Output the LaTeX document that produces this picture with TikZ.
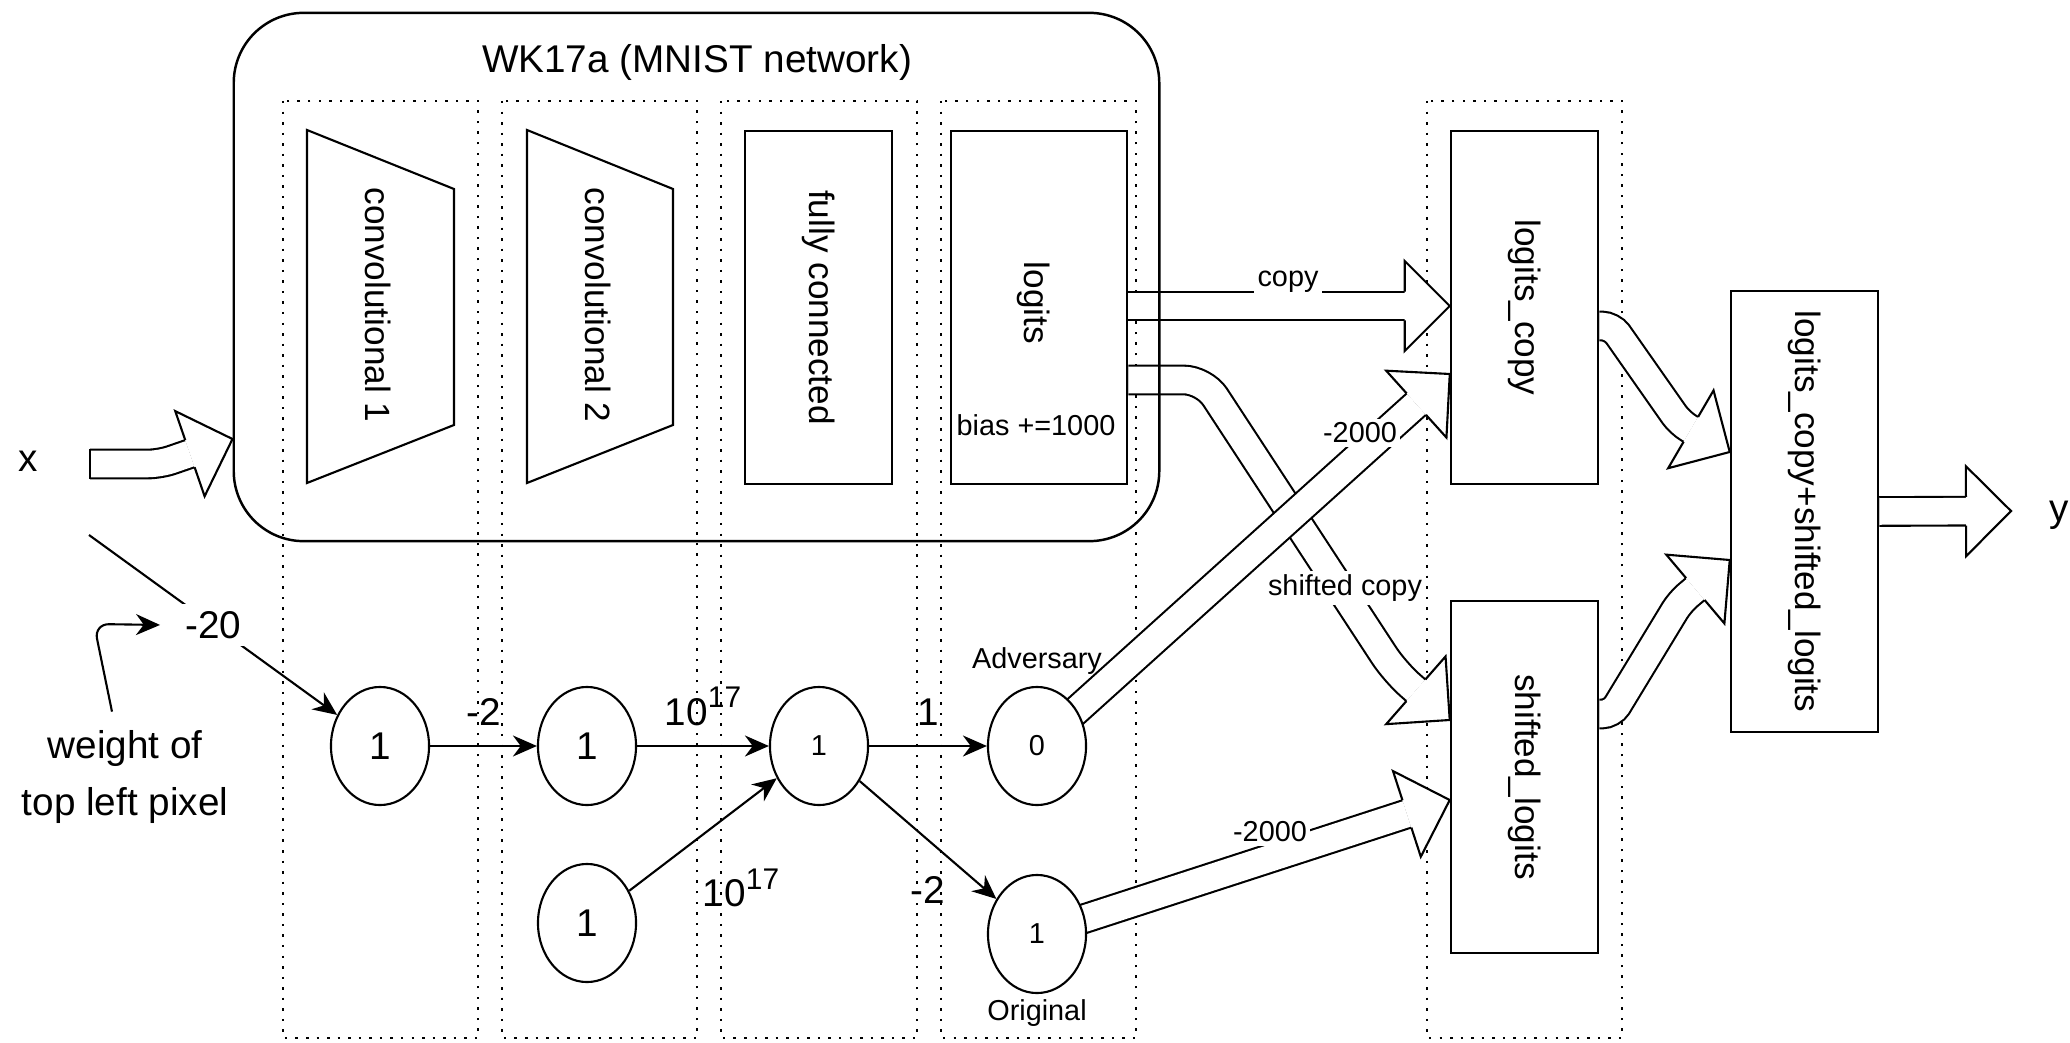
\documentclass[tikz,border=0pt]{standalone}
\usepackage{fontspec}
\setmainfont{Liberation Sans}
\usepackage{graphicx}
\usetikzlibrary{shapes.geometric}
\usetikzlibrary{arrows.meta}
\usetikzlibrary{decorations.markings}
\pgfdeclarelayer{back}
\pgfsetlayers{back,main}
\newcommand{\bigsize}{\fontsize{11}{16}\selectfont}
\newcommand{\boxsize}{\fontsize{10}{12}\selectfont}
\newcommand{\smallsize}{\fontsize{8.2}{10}\selectfont}
\newcommand{\tenpow}[1]{10\raisebox{0.45em}{\fontsize{8.5}{10}\selectfont #1}}
\tikzset{
  netbox/.style={draw, line width=0.7pt, inner sep=0pt, font=\boxsize},
  neuron/.style={ellipse, draw, line width=0.6pt, fill=white, minimum width=0.98cm, minimum height=1.18cm, inner sep=0pt},
  colframe/.style={line width=0.7pt, dash pattern=on 0.7pt off 2.3pt},
  wire/.style={line width=0.6pt, -{Stealth[length=0.24cm, width=0.21cm]}},
  biglab/.style={font=\bigsize, inner sep=1pt},
  smalllab/.style={font=\smallsize, inner sep=1pt},
  fatbody/.style={double=white, double distance=0.265cm, line width=0.6pt, shorten >=0.45cm},
  fathead/.style={decorate, decoration={markings, mark=at position 1 with {
    \filldraw[sharp corners, fill=white, line width=0.6pt, line join=miter] (-0.45cm,0.1435cm) -- (-0.45cm,0.45cm) -- (0cm,0cm) -- (-0.45cm,-0.45cm) -- (-0.45cm,-0.1435cm);}}},
}
% #2: the bends, #3: the last straight piece that carries the head
\newcommand{\fatarrow}[3][]{\draw[fatbody,#1] #2 #3; \path[fathead] #3;}

\begin{document}
\begin{tikzpicture}[x=0.01cm, y=-0.01cm]
\useasboundingbox (0,0) rectangle (2070,1043);

\node[draw, line width=0.7pt, rounded corners=0.7cm, minimum width=9.25cm, minimum height=5.28cm] (wk) at (696.5,277) {};
\node[biglab] (title) at (697,62) {WK17a (MNIST network)};

\draw[line width=0.6pt] (307,130) -- (454,189) -- (454,425) -- (307,483) -- cycle;
\node[font=\boxsize] (conva) at (378,305) {\rotatebox{-90}{convolutional 1}};
\draw[line width=0.6pt] (527,130) -- (673,189) -- (673,425) -- (527,483) -- cycle;
\node[font=\boxsize] (convb) at (598,305) {\rotatebox{-90}{convolutional 2}};
\node[netbox, minimum width=1.47cm, minimum height=3.53cm] (fc) at (818.5,307.5) {\rotatebox{-90}{fully connected}};
\node[netbox, minimum width=1.76cm, minimum height=3.53cm] (logits) at (1039,307.5) {};
\node[font=\boxsize] (lname) at (1034,303) {\rotatebox{-90}{logits}};
\node[smalllab] (bias) at (1036,425) {bias +=1000};

\node[netbox, minimum width=1.47cm, minimum height=3.53cm] (lcopy) at (1524.5,307.5) {\rotatebox{-90}{logits\_copy}};
\node[netbox, minimum width=1.47cm, minimum height=3.52cm] (lshift) at (1524.5,777) {\rotatebox{-90}{shifted\_logits}};
\node[netbox, minimum width=1.47cm, minimum height=4.41cm] (lsum) at (1804.5,511.5) {\rotatebox{-90}{logits\_copy+shifted\_logits}};

\node[neuron, font=\bigsize] (a1) at (380,746) {1};
\node[neuron, font=\bigsize] (a2) at (587,746) {1};
\node[neuron, font=\smallsize] (a3) at (819,746) {1};
\node[neuron, font=\bigsize] (b2) at (587,923) {1};
\node[neuron, font=\smallsize] (adv) at (1037,746) {0};
\node[neuron, font=\smallsize] (orig) at (1037,934) {1};
\node[smalllab] (advname) at (1037,661) {Adversary};
\node[smalllab] (origname) at (1037,1013) {Original};

\node[biglab] (xin) at (28,461) {x};
\node[biglab] (yout) at (2059,515) {y};
\node[biglab, align=center] (wt) at (125,777) {weight of\\top left pixel};

\coordinate (src) at (89,535);
\coordinate (xstart) at (90,464);
\coordinate (yend) at (2011,511);

\draw[wire] (src) -- (a1) node[biglab, fill=white, inner sep=2pt, midway] (w20) {-20};
\draw[wire, rounded corners=0.15cm] ([xshift=-0.13cm, yshift=0.15cm]wt.north) -- (94,624) -- ([xshift=-0.17cm]w20.west);
\draw[wire] (a1) -- (a2) node[biglab, midway, above=0.16cm] (wab) {-2};
\draw[wire] (a2) -- (a3) node[biglab, midway, above=0.16cm] (wbc) {\tenpow{17}};
\draw[wire] (b2) -- (a3);
\node[biglab] (wdc) at (741,888) {\tenpow{17}};
\draw[wire] (a3) -- (adv) node[biglab, midway, above=0.16cm] (wadv) {1};
\draw[wire] (a3) -- (orig) node[biglab, midway, below=0.32cm] (worig) {-2};

\begin{pgfonlayer}{back}
\draw[colframe] (283,101) rectangle (478,1038);
\draw[colframe] (502,101) rectangle (697,1038);
\draw[colframe] (721,101) rectangle (917,1038);
\draw[colframe] (941,101) rectangle (1136,1038);
\draw[colframe] (1427,101) rectangle (1622,1038);

\fatarrow[rounded corners=0.12cm]{(xstart) --}{(160,464) -- (wk.west |- 0,439)}
\draw[line width=0.6pt] ([yshift=0.15cm]xstart) -- ([yshift=-0.15cm]xstart);
\fatarrow[rounded corners=0.2cm]{(logits.east |- 0,380) -- (1204,380) --}{(1395,672) -- (lshift.west |- 0,720)}
\fatarrow{}{(logits.east |- 0,306) -- (lcopy.west |- 0,306)}
\fatarrow{}{(adv.center) -- (lcopy.west |- 0,374)}
\fatarrow{}{(orig.center) -- (lshift.west |- 0,800)}
\fatarrow[rounded corners=0.1cm]{(lcopy.east |- 0,326) -- (1612,326) --}{(1680,423) -- (lsum.west |- 0,452)}
\fatarrow[rounded corners=0.1cm]{(lshift.east |- 0,714) -- (1612,714) --}{(1680,602) -- (lsum.west |- 0,560)}
\fatarrow{}{(lsum.east) -- (yend)}
\end{pgfonlayer}

\node[smalllab, fill=white] (lcp) at (1288,282) {copy};
\node[smalllab, fill=white] (lsc) at (1345,588) {shifted copy};
\node[smalllab, fill=white] (lad) at (1360,433) {-2000};
\node[smalllab, fill=white] (lor) at (1270,832) {-2000};
\end{tikzpicture}
\end{document}
